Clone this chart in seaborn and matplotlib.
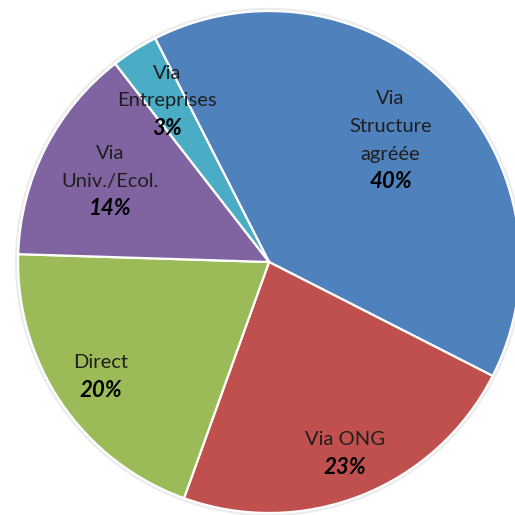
import numpy as np
import matplotlib
matplotlib.use("Agg")
import matplotlib.pyplot as plt
import seaborn as sns

# -----------------------------
# Données
# -----------------------------
categories = ["Via\nStructure\nagréée", "Via ONG", "Direct", "Via\nUniv./Ecol.", "Via\nEntreprises"]
values = [40, 23, 20, 14, 3]
pct_labels = ["40%", "23%", "20%", "14%", "3%"]
colors = ["#4F81BD", "#C0504D", "#9BBB59", "#8064A2", "#4BACC6"]

# distance radiale des étiquettes (fraction du rayon)
label_dist = [0.685, 0.82, 0.81, 0.71, 0.76]

sns.set_theme(style="white")
plt.rcParams["font.family"] = ["Lato", "DejaVu Sans"]

fig = plt.figure(figsize=(5.15, 5.15), dpi=100)
ax = fig.add_axes([0, 0, 1, 1])

# légère ombre autour du disque
ax.add_patch(plt.Circle((0, 0), 1.010, color="#ececec", zorder=0))

wedges, _ = ax.pie(values, colors=colors, startangle=117, counterclock=False,
                   radius=1.0, wedgeprops=dict(edgecolor="white", linewidth=1.6))

line_pitch = 19.9  # points
for w, name, pct, d in zip(wedges, categories, pct_labels, label_dist):
    ang = np.deg2rad((w.theta1 + w.theta2) / 2)
    xy = (d * np.cos(ang), d * np.sin(ang))
    lines = name.split("\n") + [pct]
    n = len(lines)
    for k, line in enumerate(lines):
        is_pct = k == n - 1
        ax.annotate(line, xy=xy, xytext=(0, -(k - (n - 1) / 2) * line_pitch),
                    textcoords="offset points", ha="center", va="center",
                    fontsize=16 if is_pct else 14.5,
                    color="black" if is_pct else "#1f1f1f",
                    fontweight="bold" if is_pct else "normal",
                    fontstyle="italic" if is_pct else "normal")

ax.set_xlim(-1.072, 0.980)
ax.set_ylim(-1.008, 1.044)
ax.set_aspect("auto")
ax.axis("off")

fig.savefig("out.png", dpi=100, facecolor="white")
plt.close()
